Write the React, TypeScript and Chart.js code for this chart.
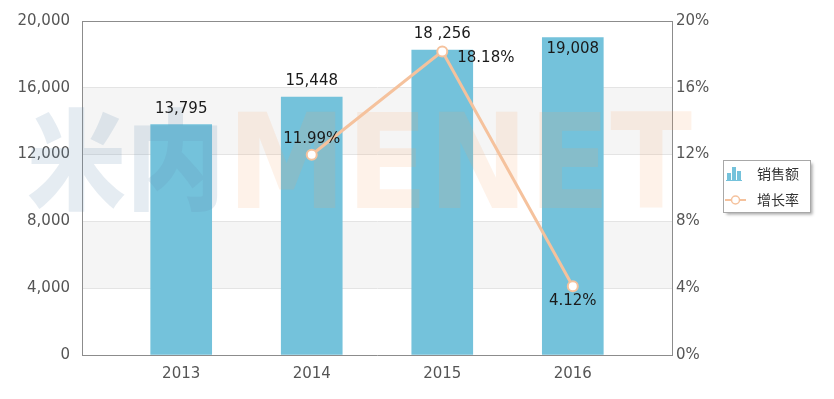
import React, { useEffect, useRef } from 'react';
import { Chart, registerables } from 'chart.js';

Chart.register(...registerables);

const years = [2013, 2014, 2015, 2016];
const sales = [13795, 15448, 18256, 19008];
const salesLabels = ['13,795', '15,448', '18 ,256', '19,008'];
const growth: (number | null)[] = [null, 11.99, 18.18, 4.12];
const growthLabels = ['', '11.99%', '18.18%', '4.12%'];
const leftTicks = [0, 4000, 8000, 12000, 16000, 20000];
const rightTicks = [0, 4, 8, 12, 16, 20];
const seriesNames = ['销售额', '增长率'];

const BAR_COLOR = '#74c2db';
const LINE_COLOR = '#f5c29d';
const FONT = '"DejaVu Sans", Verdana, sans-serif';
const CJK = '"Noto Sans CJK SC", sans-serif';
const growthPlacement = ['above', 'above', 'right', 'below'];

function drawWatermark(ctx: CanvasRenderingContext2D) {
  ctx.save();
  ctx.font = `900 109px ${CJK}`;
  ctx.textBaseline = 'middle';
  ctx.textAlign = 'left';
  const cn = '米内';
  const wcn = ctx.measureText(cn).width;
  ctx.translate(27, 160);
  ctx.scale(198 / wcn, 1);
  ctx.fillStyle = 'rgba(100,140,175,0.17)';
  ctx.fillText(cn, 0, 0);
  ctx.restore();

  ctx.save();
  ctx.font = `bold 131px ${FONT}`;
  ctx.textBaseline = 'alphabetic';
  ctx.textAlign = 'left';
  const en = 'MENET';
  const wen = ctx.measureText(en).width;
  ctx.translate(227, 208);
  ctx.scale(465 / wen, 1);
  ctx.fillStyle = 'rgba(245,160,100,0.14)';
  ctx.fillText(en, 0, 0);
  ctx.restore();
}

const decorPlugin = {
  id: 'decor',
  beforeDraw(chart: any) {
    const { ctx, chartArea } = chart;
    const y = chart.scales.y;
    ctx.save();
    ctx.fillStyle = '#ffffff';
    ctx.fillRect(0, 0, chart.width, chart.height);
    for (let i = 0; i < leftTicks.length - 1; i++) {
      if (i % 2 === 1) {
        const y0 = y.getPixelForValue(leftTicks[i]);
        const y1 = y.getPixelForValue(leftTicks[i + 1]);
        ctx.fillStyle = '#f5f5f5';
        ctx.fillRect(chartArea.left, y1, chartArea.right - chartArea.left, y0 - y1);
      }
    }
    ctx.restore();
  },
  beforeDatasetsDraw(chart: any) {
    const { ctx, chartArea } = chart;
    ctx.save();
    ctx.strokeStyle = '#8c8c8c';
    ctx.lineWidth = 1;
    ctx.beginPath();
    ctx.moveTo(chartArea.left, Math.round(chartArea.top) + 0.5);
    ctx.lineTo(chartArea.right, Math.round(chartArea.top) + 0.5);
    ctx.stroke();
    ctx.restore();
  },
  afterDatasetDraw(chart: any, args: any) {
    if (args.index === 1) drawWatermark(chart.ctx);
  },
  afterDatasetsDraw(chart: any) {
    const { ctx, chartArea } = chart;
    ctx.save();
    ctx.font = `15px ${FONT}`;
    ctx.fillStyle = '#1a1a1a';
    ctx.textBaseline = 'alphabetic';
    const barMeta = chart.getDatasetMeta(1);
    barMeta.data.forEach((el: any, i: number) => {
      ctx.textAlign = 'center';
      let yy = el.y - 12;
      if (yy - 11 < chartArea.top) yy = el.y + 15;
      ctx.fillText(salesLabels[i], el.x, yy);
    });
    const lineMeta = chart.getDatasetMeta(0);
    lineMeta.data.forEach((el: any, i: number) => {
      if (growth[i] == null) return;
      const p = growthPlacement[i];
      if (p === 'right') {
        ctx.textAlign = 'left';
        ctx.fillText(growthLabels[i], el.x + 15, el.y + 11);
      } else if (p === 'below') {
        ctx.textAlign = 'center';
        ctx.fillText(growthLabels[i], el.x, el.y + 19);
      } else {
        ctx.textAlign = 'center';
        ctx.fillText(growthLabels[i], el.x, el.y - 12);
      }
    });
    ctx.restore();
  },
  afterDraw(chart: any) {
    const ctx = chart.ctx;
    ctx.save();
    const bx = 723.5, by = 160.5, bw = 87, bh = 52;
    ctx.shadowColor = 'rgba(0,0,0,0.35)';
    ctx.shadowOffsetX = 2;
    ctx.shadowOffsetY = 2;
    ctx.shadowBlur = 3;
    ctx.fillStyle = '#ffffff';
    ctx.fillRect(bx, by, bw, bh);
    ctx.shadowColor = 'transparent';
    ctx.strokeStyle = '#a8a8a8';
    ctx.lineWidth = 1;
    ctx.strokeRect(bx, by, bw, bh);
    ctx.fillStyle = BAR_COLOR;
    ctx.fillRect(727, 173, 4, 7);
    ctx.fillRect(732, 167, 4, 13);
    ctx.fillRect(737, 171, 4, 9);
    ctx.fillRect(726, 180, 16, 1);
    ctx.strokeStyle = LINE_COLOR;
    ctx.lineWidth = 2;
    ctx.beginPath();
    ctx.moveTo(725, 200);
    ctx.lineTo(746, 200);
    ctx.stroke();
    ctx.beginPath();
    ctx.arc(735.5, 200, 4, 0, Math.PI * 2);
    ctx.fillStyle = '#ffffff';
    ctx.fill();
    ctx.lineWidth = 1.5;
    ctx.stroke();
    ctx.font = `14px ${CJK}`;
    ctx.fillStyle = '#333333';
    ctx.textAlign = 'left';
    ctx.textBaseline = 'middle';
    ctx.fillText(seriesNames[0], 757, 174);
    ctx.fillText(seriesNames[1], 757, 200);
    ctx.restore();
  },
};

export default function App() {
  const ref = useRef<HTMLCanvasElement | null>(null);
  useEffect(() => {
    if (!ref.current) return;
    const chart = new Chart(ref.current, {
      type: 'bar',
      data: {
        datasets: [
          {
            type: 'line',
            label: seriesNames[1],
            data: years.map((x, i) => ({ x, y: growth[i] })) as any,
            yAxisID: 'y1',
            xAxisID: 'x',
            borderColor: LINE_COLOR,
            borderWidth: 3,
            pointRadius: 5,
            pointBorderWidth: 2,
            pointBackgroundColor: '#ffffff',
            pointBorderColor: LINE_COLOR,
            order: 0,
            spanGaps: false,
          } as any,
          {
            type: 'bar',
            label: seriesNames[0],
            data: years.map((x, i) => ({ x, y: sales[i] })) as any,
            yAxisID: 'y',
            xAxisID: 'x',
            backgroundColor: BAR_COLOR,
            barThickness: 61,
            order: 1,
          } as any,
        ],
      },
      options: {
        animation: false,
        responsive: false,
        layout: { padding: { left: 0, right: 102, top: 16, bottom: 0 } },
        plugins: { legend: { display: false }, tooltip: { enabled: false } },
        scales: {
          x: {
            type: 'linear',
            min: 2012.24,
            max: 2016.76,
            offset: false,
            grid: { display: false, drawTicks: false },
            border: { display: true, color: '#8c8c8c', width: 1 },
            afterBuildTicks: (s: any) => { s.ticks = years.map((v) => ({ value: v })); },
            afterFit: (s: any) => { s.height = 44; },
            ticks: {
              padding: 10,
              color: '#555555',
              font: { family: FONT, size: 15 },
              callback: (v: any) => String(v),
            },
          },
          y: {
            type: 'linear',
            position: 'left',
            min: 0,
            max: 20000,
            grid: { color: '#e4e4e4', drawTicks: false },
            border: { display: true, color: '#8c8c8c', width: 1 },
            afterBuildTicks: (s: any) => { s.ticks = leftTicks.map((v) => ({ value: v })); },
            afterFit: (s: any) => { s.width = 82; },
            ticks: {
              padding: 12,
              color: '#555555',
              font: { family: FONT, size: 15 },
              callback: (v: any) => Number(v).toLocaleString('en-US'),
            },
          },
          y1: {
            type: 'linear',
            position: 'right',
            min: 0,
            max: 20,
            grid: { display: false, drawTicks: false },
            border: { display: true, color: '#8c8c8c', width: 1 },
            afterBuildTicks: (s: any) => { s.ticks = rightTicks.map((v) => ({ value: v })); },
            afterFit: (s: any) => { s.width = 60; },
            ticks: {
              padding: 4,
              color: '#555555',
              font: { family: FONT, size: 15 },
              callback: (v: any) => `${v}%`,
            },
          },
        },
      } as any,
      plugins: [decorPlugin as any],
    });
    return () => chart.destroy();
  }, []);
  return (
    <div style={{ position: 'absolute', left: 0, top: 0, width: 834, height: 399 }}>
      <canvas ref={ref} width={834} height={399} style={{ width: 834, height: 399, display: 'block' }} />
    </div>
  );
}
